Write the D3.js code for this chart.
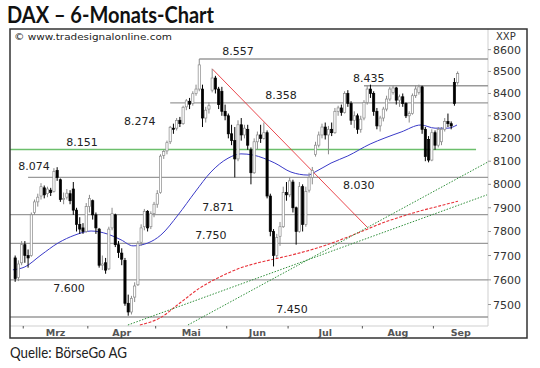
<!DOCTYPE html>
<html>
<head>
<meta charset="utf-8">
<script src="https://cdn.jsdelivr.net/npm/d3@7"></script>
<style>
body{margin:0;background:#fff}
svg{display:block}
</style>
</head>
<body>
<script>
// daily DAX candles, index 0 = last days of February
const opens=[7690,7610,7670,7745,7700,7700,7880,7925,7950,7985,7960,7975,7970,8060,8020,7935,7945,7960,7980,7890,
7830,7815,7800,7905,7930,7870,7810,7660,7670,7645,7815,7870,7745,7710,7680,7505,7470,7530,7580,7755,
7820,7885,7820,7875,7915,7965,8125,8145,8185,8245,8245,8280,8265,8340,8365,8355,8400,8420,8420,8290,
8330,8415,8470,8420,8410,8320,8300,8220,8190,8110,8260,8215,8240,8150,8050,8185,8215,8200,8225,7950,
7800,7700,7780,7820,7965,7955,8010,7900,7800,7990,7830,7975,8030,8130,8170,8215,8250,8215,8240,8225,
8320,8335,8315,8400,8355,8280,8300,8240,8290,8360,8420,8400,8320,8255,8290,8330,8375,8405,8425,8370,
8385,8355,8300,8310,8390,8405,8430,8240,8195,8105,8225,8170,8185,8240,8275,8265,8450,8450];
const highs=[7700,7680,7760,7760,7725,7880,7935,7960,8005,7995,7990,7985,8070,8074,8025,7965,7980,7975,8010,7900,
7860,7835,7920,7955,7935,7880,7815,7700,7690,7820,7900,7875,7760,7730,7690,7540,7535,7590,7760,7830,
7895,7890,7885,7925,7975,8130,8150,8190,8255,8265,8290,8295,8345,8375,8380,8410,8440,8557,8440,8340,
8360,8512,8480,8430,8430,8350,8310,8260,8250,8280,8290,8260,8260,8160,8200,8230,8260,8270,8235,7960,
7810,7790,7840,7990,8010,8030,8020,7905,8010,8000,7990,8050,8075,8185,8230,8265,8270,8255,8270,8335,
8345,8350,8410,8415,8365,8320,8310,8300,8370,8435,8440,8410,8335,8300,8340,8390,8430,8435,8430,8395,
8400,8360,8320,8400,8435,8440,8435,8250,8210,8240,8235,8250,8250,8290,8310,8275,8470,8500];
const lows=[7592,7595,7660,7670,7650,7695,7870,7905,7935,7940,7945,7950,7965,8015,7925,7915,7935,7915,7870,7800,
7790,7790,7795,7880,7850,7790,7650,7640,7625,7640,7805,7735,7690,7660,7495,7455,7460,7510,7575,7740,
7805,7800,7810,7860,7900,7960,8110,8130,8175,8220,8235,8250,8260,8325,8330,8345,8390,8410,8250,8270,
8310,8405,8400,8330,8300,8280,8200,8170,8030,8100,8190,8200,8150,8000,8045,8150,8180,8195,7940,7780,
7655,7690,7740,7815,7930,7945,7880,7745,7795,7800,7820,7965,8000,8120,8160,8200,8195,8130,8210,8220,
8300,8300,8310,8340,8260,8245,8220,8225,8280,8350,8380,8300,8240,8230,8275,8320,8365,8395,8350,8340,
8340,8290,8270,8305,8380,8395,8220,8100,8095,8100,8150,8160,8170,8230,8250,8240,8345,8440];
const closes=[7605,7665,7745,7700,7690,7870,7925,7945,7990,7955,7980,7965,8055,8030,7935,7940,7962,7930,7890,7830,
7810,7800,7905,7940,7870,7815,7660,7665,7640,7810,7875,7745,7712,7685,7505,7470,7525,7575,7750,7815,
7885,7815,7875,7915,7960,8122,8143,8181,8249,8240,8279,8265,8338,8367,8352,8399,8420,8530,8290,8325,
8345,8470,8420,8350,8320,8300,8220,8190,8110,8260,8215,8245,8170,8050,8185,8215,8200,8225,7950,7800,
7700,7775,7820,7965,7955,8015,7900,7800,7990,7830,7970,8030,8060,8170,8215,8250,8215,8240,8225,8320,
8335,8315,8400,8355,8280,8300,8240,8285,8360,8420,8400,8320,8255,8290,8330,8375,8420,8425,8370,8385,
8355,8300,8310,8390,8420,8430,8240,8120,8105,8225,8170,8240,8240,8275,8265,8255,8355,8490];

// month boundaries (candle index) and names
const months=["Mrz","Apr","Mai","Jun","Jul","Aug","Sep"];
const monthStarts=[2.5,22.5,43.5,65.5,84.5,107.5,129.5];

// y axis ticks
const yTicks=[7500,7600,7700,7800,7900,8000,8100,8200,8300,8400,8500,8600];

// marked price levels
const levels=[8557,8435,8358,8274,8151,8074,8030,7871,7750,7600,7450];
const levelFrom=[57,108,48,null,-1.6,null,4,-1.6,-1.6,-1.6,-1.6];
const levelTo=[146.4,146.4,146.4,null,142.7,null,146.4,146.4,146.4,146.4,146.4];
const levelLabelAt=[69,109.5,82.3,38.6,20.7,5.8,106.4,62.8,60.6,16.7,85.7];
const levelSide=["above","above","above","mid","above","mid","below","above","above","below","above"];

// moving averages
const maShortIdx=[-0.7,3,8,13.3,18.5,23.5,28.7,32.8,36.5,41.1,45.1,50.4,55.7,60.6,65.9,69.9,73.6,80.4,85.4,90.7,92.8,97.8,103,109.9,114.5,119.5,125.6,130,134,136.8];
const maShort=[7641,7653,7702,7752,7785,7802,7789,7765,7740,7752,7785,7869,7967,8053,8113,8132,8127,8092,8053,8040,8053,8092,8123,8175,8202,8228,8259,8245,8245,8259];
const maLongIdx=[38.6,44.8,51,57.2,63.4,69.6,74.9,80.4,88.2,94.4,100.7,106.9,113,119.2,125.3,131.5,137.1];
const maLong=[7418,7446,7506,7567,7612,7648,7669,7686,7711,7735,7765,7798,7832,7861,7886,7908,7928];

// trend lines [index, value]
const trendDown=[[61,8512],[109,7818]];
const trendUp1=[[53.5,7418],[146.4,8097]];
const trendUp2=[[34.9,7418],[146.1,7955]];

const W=540,H=368;
const L=10,R=488,T=29,B=326;
const svg=d3.select("body").append("svg").attr("width",W).attr("height",H);
svg.append("rect").attr("width",W).attr("height",H).attr("fill","#fff");

const x=d3.scaleLinear().domain([-1.6,146.4]).range([L,R]);
const y=d3.scaleLog().domain([7414,8696]).range([B,T]);
const de=d3.formatLocale({decimal:",",thousands:".",grouping:[3],currency:["","€"]});
const fmt=de.format(",d");

// title and source
svg.append("text").attr("x",7).attr("y",23)
  .attr("font-family","Lato, sans-serif").attr("font-weight","bold").attr("font-size","22px")
  .attr("textLength",207).attr("lengthAdjust","spacingAndGlyphs")
  .attr("fill","#111").text("DAX – 6-Monats-Chart");
svg.append("text").attr("x",10).attr("y",358)
  .attr("font-family","Lato, sans-serif").attr("font-size","16px")
  .attr("textLength",117).attr("lengthAdjust","spacingAndGlyphs")
  .attr("fill","#222").text("Quelle: BörseGo AG");

svg.append("defs").append("clipPath").attr("id","plot")
  .append("rect").attr("x",L).attr("y",T).attr("width",R-L).attr("height",B-T);

// inner plot borders
svg.append("line").attr("x1",R).attr("x2",R).attr("y1",T).attr("y2",B).attr("stroke","#cfcfcf");
svg.append("line").attr("x1",L).attr("x2",R).attr("y1",B).attr("y2",B).attr("stroke","#cfcfcf");

const g=svg.append("g").attr("clip-path","url(#plot)");

// level lines
levels.forEach((v,i)=>{
  if(levelFrom[i]===null) return;
  const green=v===8151;
  g.append("line")
    .attr("x1",x(levelFrom[i])).attr("x2",x(levelTo[i]))
    .attr("y1",y(v)).attr("y2",y(v))
    .attr("stroke",green?"#6cbf6c":"#9a9a9a")
    .attr("stroke-width",green?1.6:1.3);
});

// moving averages
const lineGen=d3.line().x(d=>x(d[0])).y(d=>y(d[1])).curve(d3.curveMonotoneX);
g.append("path").datum(maLongIdx.map((d,i)=>[d,maLong[i]]))
  .attr("d",lineGen).attr("fill","none").attr("stroke","#e8333a")
  .attr("stroke-width",1.1).attr("stroke-dasharray","3,1.5");
g.append("path").datum(maShortIdx.map((d,i)=>[d,maShort[i]]))
  .attr("d",lineGen).attr("fill","none").attr("stroke","#3a3ac8")
  .attr("stroke-width",1);

// trend lines
const straight=d3.line().x(d=>x(d[0])).y(d=>y(d[1]));
g.append("path").datum(trendDown).attr("d",straight).attr("fill","none")
  .attr("stroke","#e8333a").attr("stroke-width",0.9);
[trendUp1,trendUp2].forEach(t=>{
  g.append("path").datum(t).attr("d",straight).attr("fill","none")
    .attr("stroke","#2f8f3a").attr("stroke-width",1).attr("stroke-dasharray","1.5,1.5");
});

// candles
const candles=closes.map((c,i)=>({i,o:opens[i],h:highs[i],l:lows[i],c}));
const cg=g.append("g");
cg.selectAll("line.wick").data(candles).enter().append("line")
  .attr("x1",d=>x(d.i)).attr("x2",d=>x(d.i))
  .attr("y1",d=>y(d.h)).attr("y2",d=>y(d.l))
  .attr("stroke",d=>d.c>=d.o?"#8a8a8a":"#000").attr("stroke-width",1);
const bw=2.2;
cg.selectAll("rect").data(candles).enter().append("rect")
  .attr("x",d=>x(d.i)-bw/2).attr("width",bw)
  .attr("y",d=>y(Math.max(d.o,d.c)))
  .attr("height",d=>Math.max(1,Math.abs(y(d.o)-y(d.c))))
  .attr("fill",d=>d.c>=d.o?"#fff":"#000")
  .attr("stroke",d=>d.c>=d.o?"#8a8a8a":"#000").attr("stroke-width",0.7);

// level labels
const sideDy={above:-4,below:12,mid:3};
levels.forEach((v,i)=>{
  svg.append("text").attr("x",x(levelLabelAt[i])).attr("y",y(v)+sideDy[levelSide[i]])
    .attr("text-anchor","middle").attr("font-family","DejaVu Sans, sans-serif")
    .attr("font-size","11px").attr("fill","#222").text(fmt(v));
});

// y axis
yTicks.forEach(v=>{
  svg.append("line").attr("x1",R).attr("x2",R+3).attr("y1",y(v)).attr("y2",y(v)).attr("stroke","#999");
  svg.append("text").attr("x",R+5).attr("y",y(v)+4)
    .attr("font-family","DejaVu Sans, sans-serif").attr("font-size","11px")
    .attr("fill","#333").text(v);
});
svg.append("text").attr("x",R+8).attr("y",40)
  .attr("font-family","DejaVu Sans, sans-serif").attr("font-size","10px")
  .attr("fill","#333").text("XXP");

// x axis
monthStarts.forEach((m,i)=>{
  svg.append("line").attr("x1",x(m)).attr("x2",x(m)).attr("y1",B).attr("y2",B+2.5).attr("stroke","#555");
  const end=i<monthStarts.length-1?monthStarts[i+1]:x.domain()[1];
  svg.append("text").attr("x",x((m+end)/2)).attr("y",336)
    .attr("text-anchor","middle").attr("font-family","DejaVu Sans, sans-serif")
    .attr("font-size","9.5px").attr("font-weight","bold").attr("fill","#555").text(months[i]);
});

svg.append("text").attr("x",14).attr("y",40)
  .attr("font-family","DejaVu Sans, sans-serif").attr("font-size","9px")
  .attr("textLength",158).attr("lengthAdjust","spacingAndGlyphs")
  .attr("fill","#222").text("© www.tradesignalonline.com");

// outer frame
svg.append("rect").attr("x",L).attr("y",T).attr("width",527-L).attr("height",338-T)
  .attr("fill","none").attr("stroke","#333").attr("stroke-width",1.5);
</script>
</body>
</html>
